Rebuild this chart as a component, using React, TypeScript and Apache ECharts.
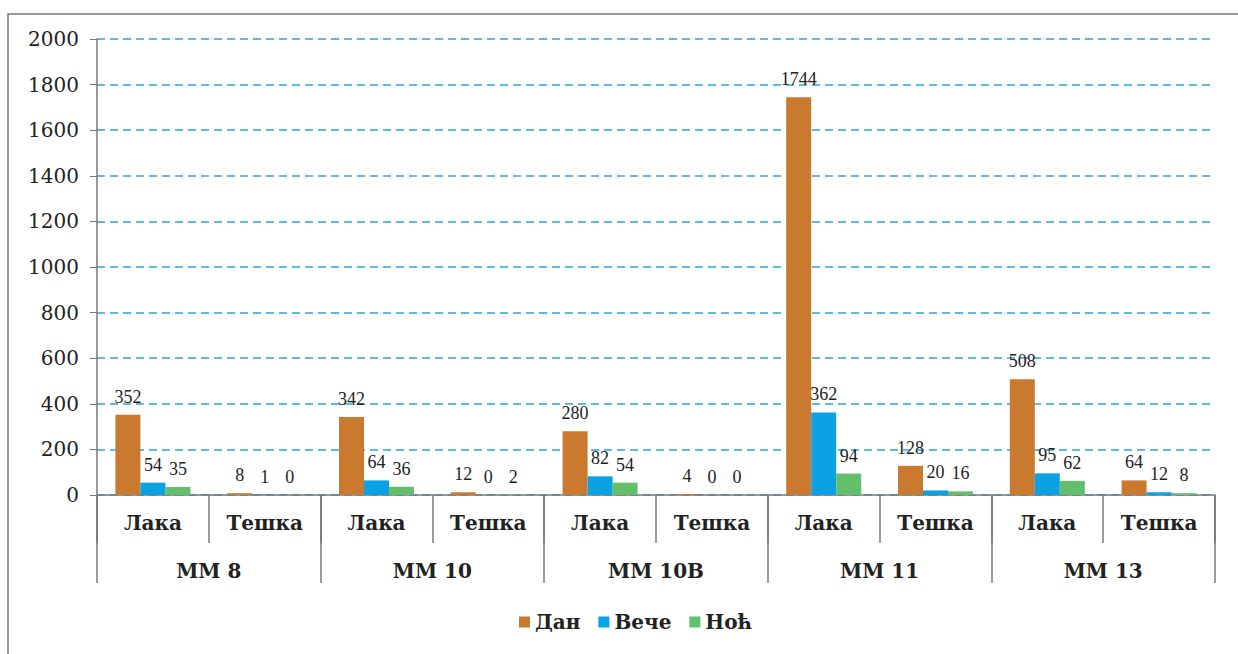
import React, { useEffect, useRef } from "react";
import * as echarts from "echarts";

const subCategories = ["Лака", "Тешка", "Лака", "Тешка", "Лака", "Тешка", "Лака", "Тешка", "Лака", "Тешка"];
const groups = ["ММ 8", "ММ 10", "ММ 10B", "ММ 11", "ММ 13"];
const seriesNames = ["Дан", "Вече", "Ноћ"];
const dan = [352, 8, 342, 12, 280, 4, 1744, 128, 508, 64];
const vece = [54, 1, 64, 0, 82, 0, 362, 20, 95, 12];
const noc = [35, 0, 36, 2, 54, 0, 94, 16, 62, 8];
const yTicks = { min: 0, max: 2000, interval: 200 };

const colors = ["#c97a2f", "#0ba2e4", "#62c06d"];
const serifA = "DejaVu Serif";
const serifB = "Liberation Serif";

export default function App() {
  const ref = useRef<HTMLDivElement>(null);
  useEffect(() => {
    if (!ref.current) return;
    const chart = echarts.init(ref.current, null, { renderer: "svg" });
    const values = [dan, vece, noc];
    const txt = (size: number, bold: boolean, fam: string) => ({
      fontFamily: fam,
      fontSize: size,
      fontWeight: bold ? "bold" : "normal",
      color: "#222",
    });
    chart.setOption({
      animation: false,
      backgroundColor: "#ffffff",
      graphic: [
        {
          type: "rect",
          shape: { x: 8, y: 14, width: 1250, height: 660 },
          style: { fill: "none", stroke: "#777", lineWidth: 1.5 },
          silent: true,
          z: -10,
        },
      ],
      legend: {
        bottom: 17,
        left: 514,
        itemWidth: 11,
        itemHeight: 11,
        itemGap: 18,
        icon: "rect",
        textStyle: txt(20, true, serifA),
        data: seriesNames,
      },
      grid: { left: 97, right: 23, top: 39, bottom: 159 },
      xAxis: [
        {
          type: "category",
          data: subCategories,
          position: "bottom",
          axisLine: { show: true, lineStyle: { color: "#777", width: 1.5 } },
          axisTick: { show: true, interval: 0, length: 48, lineStyle: { color: "#777", width: 1.5 } },
          axisLabel: { interval: 0, margin: 18, ...txt(20, true, serifA) },
        },
        {
          type: "category",
          data: groups,
          position: "bottom",
          axisLine: { show: false },
          axisTick: { show: true, interval: 0, length: 88, lineStyle: { color: "#777", width: 1.5 } },
          axisLabel: { interval: 0, margin: 66, ...txt(20, true, serifA) },
        },
      ],
      yAxis: {
        type: "value",
        min: yTicks.min,
        max: yTicks.max,
        interval: yTicks.interval,
        axisLine: { show: true, lineStyle: { color: "#777", width: 1.5 } },
        axisTick: { show: true, length: 7, lineStyle: { color: "#777" } },
        axisLabel: {
          margin: 18,
          ...txt(20, false, serifA),
          formatter: (v: number) => String(v),
        },
        splitLine: { show: true, lineStyle: { color: "#2aa6d6", width: 1.5, type: [8, 5] } },
      },
      series: seriesNames.map((name, i) => ({
        name,
        type: "bar",
        xAxisIndex: 0,
        data: values[i],
        barWidth: 25,
        barGap: "0%",
        itemStyle: { color: colors[i] },
        label: {
          show: true,
          position: "top",
          distance: 9,
          ...txt(18, false, serifB),
        },
      })),
    });
    return () => chart.dispose();
  }, []);
  return (
    <div
      ref={ref}
      style={{ position: "absolute", left: 0, top: 0, width: 1238, height: 654 }}
    />
  );
}
